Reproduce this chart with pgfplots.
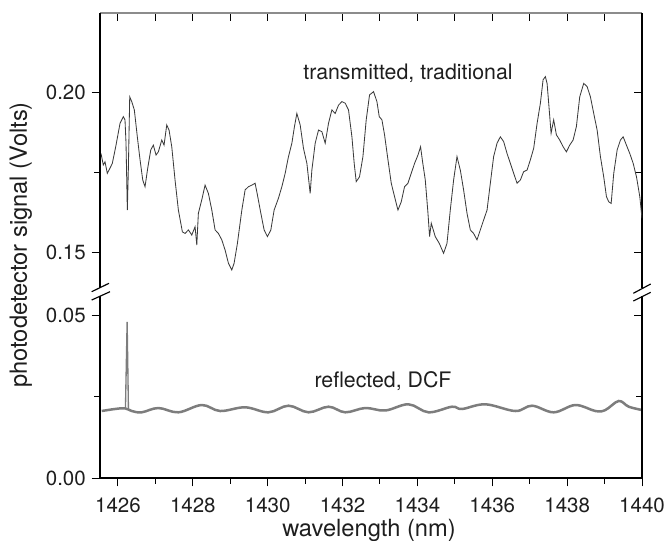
\documentclass[border=0pt]{standalone}
\usepackage{pgfplots}
\pgfplotsset{compat=1.18}
\usepackage{fontspec}
\setmainfont{TeX Gyre Heros}
\definecolor{uptrace}{HTML}{3A3A3A}
\definecolor{lowtrace}{HTML}{7D7D7D}
\definecolor{txt}{HTML}{1E1E1E}

\pgfplotsset{
  every non boxed x axis/.style={},
  every non boxed y axis/.style={},
  brk/.style={scale only axis, width=325.2pt, xmin=1425.52, xmax=1440,
    enlargelimits=false, scaled ticks=false,
    axis line style={-, line width=0.7pt},
    tick style={line width=0.6pt, black},
    major tick length=5pt, minor tick length=3.4pt,
    ticklabel style={font=\fontsize{12.3}{14}\selectfont, text=txt}},
  upper/.style={brk, at={(0pt,114.3pt)}, anchor=south west, height=164.7pt,
    ymin=0.13891, ymax=0.22469},
  lower/.style={brk, at={(0pt,0pt)}, anchor=south west, height=109.2pt,
    ymin=0, ymax=0.05583},
}

\begin{document}
\begin{tikzpicture}
\useasboundingbox (-60pt,-37.2pt) rectangle (340.2pt,286.8pt);

% upper panel: top and right side, ticks inside
\begin{axis}[upper, axis x line=top, axis y line=right, tick align=inside,
  xtick={1426,1427,...,1440}, xticklabels={},
  ytick={0.15,0.20}, minor ytick={0.175}, yticklabels={},
  x axis line style={draw=black!45}]
\addplot[uptrace, line width=0.5pt] coordinates {
(1425.547,0.1808) (1425.608,0.1772) (1425.654,0.1782) (1425.715,0.1746)
(1425.787,0.1762) (1425.849,0.1777) (1425.940,0.1829) (1426.055,0.1902)
(1426.143,0.1923) (1426.188,0.1913) (1426.215,0.1840) (1426.250,0.1631)
(1426.277,0.1756) (1426.314,0.1985) (1426.368,0.1970) (1426.437,0.1944)
(1426.517,0.1860) (1426.590,0.1788) (1426.662,0.1725) (1426.723,0.1704)
(1426.795,0.1762) (1426.876,0.1819) (1426.945,0.1834) (1427.017,0.1803)
(1427.079,0.1813) (1427.170,0.1850) (1427.231,0.1834) (1427.303,0.1897)
(1427.365,0.1881) (1427.437,0.1829) (1427.525,0.1725) (1427.614,0.1631)
(1427.721,0.1563) (1427.793,0.1558) (1427.881,0.1569) (1427.972,0.1553)
(1428.060,0.1579) (1428.106,0.1522) (1428.148,0.1621) (1428.239,0.1663)
(1428.327,0.1709) (1428.416,0.1683) (1428.507,0.1631) (1428.595,0.1569)
(1428.683,0.1558) (1428.774,0.1538) (1428.862,0.1506) (1428.951,0.1465)
(1429.041,0.1444)
(1429.103,0.1465) (1429.191,0.1527) (1429.309,0.1631) (1429.397,0.1694)
(1429.485,0.1704) (1429.576,0.1709) (1429.664,0.1715) (1429.726,0.1678)
(1429.817,0.1621) (1429.905,0.1569) (1429.993,0.1548) (1430.084,0.1569)
(1430.172,0.1631) (1430.287,0.1668) (1430.378,0.1704) (1430.467,0.1746)
(1430.555,0.1798) (1430.646,0.1840) (1430.715,0.1892) (1430.779,0.1933)
(1430.868,0.1897) (1430.956,0.1824) (1431.047,0.1777) (1431.135,0.1683)
(1431.180,0.1756) (1431.269,0.1840) (1431.357,0.1881) (1431.448,0.1876)
(1431.536,0.1840) (1431.624,0.1902) (1431.715,0.1944) (1431.803,0.1933)
(1431.892,0.1959) (1431.983,0.1970) (1432.071,0.1965) (1432.159,0.1944)
(1432.250,0.1860) (1432.311,0.1777) (1432.365,0.1720) (1432.453,0.1735)
(1432.544,0.1798) (1432.632,0.1913) (1432.721,0.1991)
(1432.828,0.2001) (1432.918,0.1970) (1432.980,0.1923) (1433.052,0.1913)
(1433.122,0.1866) (1433.213,0.1788) (1433.301,0.1715) (1433.389,0.1673)
(1433.480,0.1631) (1433.568,0.1657) (1433.656,0.1704) (1433.747,0.1715)
(1433.835,0.1746) (1433.924,0.1777) (1434.015,0.1803) (1434.084,0.1829)
(1434.138,0.1782) (1434.210,0.1725) (1434.282,0.1621) (1434.325,0.1548)
(1434.370,0.1590) (1434.477,0.1548) (1434.584,0.1527) (1434.699,0.1496)
(1434.790,0.1527) (1434.878,0.1631) (1434.967,0.1725) (1435.057,0.1798)
(1435.146,0.1756) (1435.234,0.1694) (1435.325,0.1621) (1435.413,0.1569)
(1435.501,0.1558) (1435.592,0.1538) (1435.680,0.1569) (1435.769,0.1600)
(1435.860,0.1631) (1435.948,0.1715) (1436.036,0.1798) (1436.127,0.1840)
(1436.215,0.1860)
(1436.304,0.1845) (1436.394,0.1808) (1436.483,0.1777) (1436.571,0.1746)
(1436.662,0.1715) (1436.750,0.1725) (1436.838,0.1751) (1436.929,0.1756)
(1437.017,0.1788) (1437.106,0.1824) (1437.197,0.1902) (1437.285,0.1965)
(1437.357,0.2038) (1437.418,0.2048) (1437.464,0.2027) (1437.507,0.1965)
(1437.571,0.1871) (1437.640,0.1913) (1437.713,0.1866) (1437.801,0.1850)
(1437.892,0.1829) (1437.980,0.1813) (1438.068,0.1834) (1438.159,0.1850)
(1438.247,0.1892) (1438.336,0.1985) (1438.443,0.2027) (1438.533,0.2017)
(1438.622,0.1985) (1438.710,0.1933) (1438.801,0.1881) (1438.889,0.1798)
(1438.977,0.1735) (1439.050,0.1673) (1439.111,0.1657) (1439.176,0.1652)
(1439.245,0.1746) (1439.336,0.1819) (1439.424,0.1850) (1439.496,0.1860)
(1439.584,0.1834) (1439.673,0.1808) (1439.764,0.1777) (1439.852,0.1735)
(1439.941,0.1673) (1440.000,0.1605)
};
\end{axis}

% upper panel: left side, ticks outside
\begin{axis}[upper, axis y line=left, axis x line=none, tick align=outside,
  ytick={0.15,0.20}, minor ytick={0.175}, yticklabels={0.15,0.20}]
\end{axis}

% lower panel: bottom and left, ticks outside
\begin{axis}[lower, axis x line=bottom, axis y line=left, tick align=outside,
  xtick={1426,1428,...,1440}, minor xtick={1427,1429,...,1439},
  xticklabels={1426,1428,1430,1432,1434,1436,1438,1440},
  xticklabel style={yshift=-3.5pt},
  ytick={0,0.05}, minor ytick={0.025}, yticklabels={0.00,0.05}]
\addplot[lowtrace, line width=1.5pt, smooth, tension=0.6] coordinates {
(1425.565,0.02055) (1425.921,0.02117) (1426.188,0.02138) (1426.368,0.02055)
(1426.635,0.02015) (1427.079,0.02147) (1427.614,0.02015) (1428.239,0.02239)
(1428.729,0.02055) (1429.397,0.02169) (1430.020,0.02015) (1430.555,0.02218)
(1431.090,0.02015) (1431.624,0.02187) (1432.071,0.02015) (1432.606,0.02147)
(1433.140,0.02071) (1433.763,0.02261) (1434.298,0.02015) (1434.924,0.02187)
(1435.191,0.02117) (1435.814,0.02261) (1436.616,0.02055) (1437.063,0.02218)
(1437.640,0.02015) (1438.220,0.02239) (1438.755,0.02055) (1439.022,0.02086)
(1439.378,0.02362) (1439.646,0.02187) (1440.000,0.02086)
};
\addplot[lowtrace, line width=0.8pt] coordinates {
(1426.200,0.0213) (1426.245,0.0479) (1426.280,0.0210)
};
\end{axis}

% lower panel: right side, ticks inside
\begin{axis}[lower, axis y line=right, axis x line=none, tick align=inside,
  ytick={0,0.05}, minor ytick={0.025}, yticklabels={}]
\end{axis}

% axis break marks
\draw[line width=0.7pt] (-4.98pt,111.78pt) -- (5.4pt,116.82pt);
\draw[line width=0.7pt] (-4.98pt,106.8pt) -- (6pt,111.78pt);
\draw[line width=0.7pt] (319.98pt,110.82pt) -- (330.42pt,116.4pt);
\draw[line width=0.7pt] (319.98pt,106.2pt) -- (330.42pt,111.42pt);

% labels
\node[anchor=base, text=txt, font=\fontsize{12.8}{15}\selectfont] at (184.8pt,238.8pt) {transmitted, traditional};
\node[anchor=base, text=txt, font=\fontsize{12.8}{15}\selectfont] at (169.8pt,54.6pt) {reflected, DCF};
\node[anchor=base, text=txt, font=\fontsize{14.2}{17}\selectfont] at (161.4pt,-34.8pt) {wavelength (nm)};
\node[anchor=base, rotate=90, text=txt, font=\fontsize{14.2}{17}\selectfont] at (-43.8pt,139.8pt) {photodetector signal (Volts)};
\end{tikzpicture}
\end{document}
